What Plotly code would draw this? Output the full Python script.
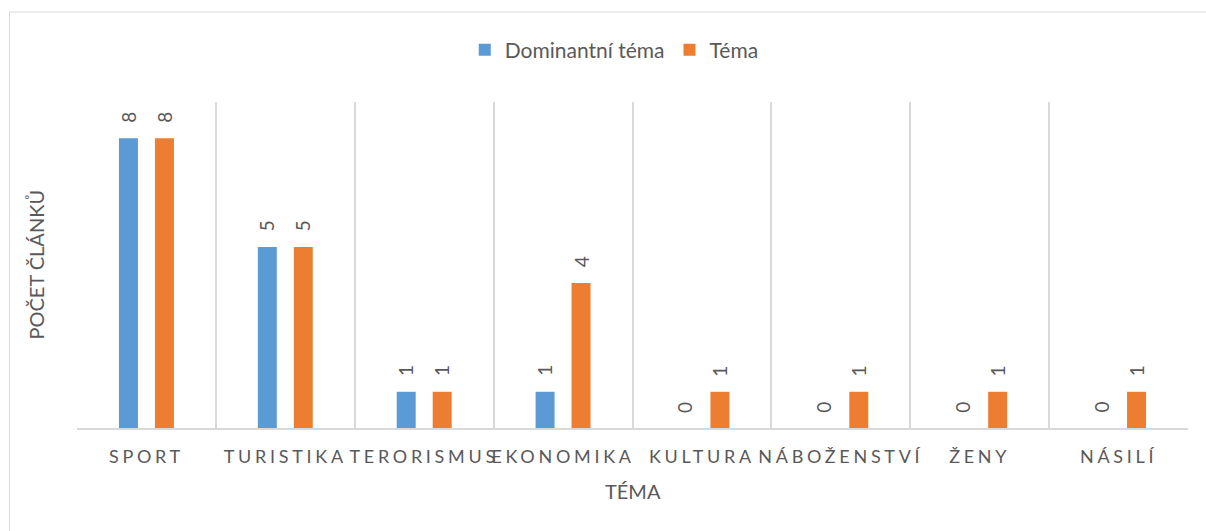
import plotly.graph_objects as go

categories = ["SPORT", "TURISTIKA", "TERORISMUS", "EKONOMIKA", "KULTURA",
              "NÁBOŽENSTVÍ", "ŽENY", "NÁSILÍ"]
dominant = [8, 5, 1, 1, 0, 0, 0, 0]
tema = [8, 5, 1, 4, 1, 1, 1, 1]
series_names = ["Dominantní téma", "Téma"]
colors = ["#5B9BD5", "#ED7D31"]
x_title = "TÉMA"
y_title = "POČET ČLÁNKŮ"

TEXT = "#595959"
GRID = "#D9D9D9"
FONT = "Lato"

W, H = 1206, 531
L, R, T, B = 76.5, 18, 102, 103
pw = W - L - R
ph = H - T - B


def px(x):
    return (x - L) / pw


def py(y):
    return (H - B - y) / ph


fig = go.Figure()
for name, vals, c in zip(series_names, [dominant, tema], colors):
    fig.add_bar(x=categories, y=vals, name=name, marker_color=c,
                marker_line_width=0)

annotations = []
for vals, shift in zip([dominant, tema], [-18, 18]):
    for cat, v in zip(categories, vals):
        annotations.append(dict(
            x=cat, y=v, xref="x", yref="y", text=str(v), showarrow=False,
            textangle=-90, xshift=shift, yshift=21, yanchor="middle",
            xanchor="center", font=dict(family=FONT, size=19, color=TEXT)))

annotations.append(dict(
    x=0.5, y=py(491), xref="paper", yref="paper", text=x_title,
    showarrow=False, xanchor="center", yanchor="middle",
    font=dict(family=FONT, size=20, color=TEXT)))
annotations.append(dict(
    x=px(35), y=0.5, xref="paper", yref="paper", text=y_title,
    showarrow=False, xanchor="center", yanchor="middle", textangle=-90,
    font=dict(family=FONT, size=20, color=TEXT)))

fig.update_layout(
    width=W, height=H,
    margin=dict(l=L, r=R, t=T, b=B, pad=0),
    paper_bgcolor="white", plot_bgcolor="white",
    font=dict(family=FONT, color=TEXT),
    barmode="group", bargap=0.482, bargroupgap=0.472,
    showlegend=True,
    legend=dict(orientation="h", x=px(614), xanchor="center",
                y=py(50), yanchor="middle", xref="paper", yref="paper",
                font=dict(family=FONT, size=21, color=TEXT),
                itemwidth=30, bgcolor="rgba(0,0,0,0)"),
    annotations=annotations,
    shapes=[dict(type="rect", xref="paper", yref="paper",
                 x0=px(9), y0=py(12), x1=px(1230), y1=py(560),
                 line=dict(color=GRID, width=1), fillcolor="rgba(0,0,0,0)",
                 layer="below")],
)
fig.update_xaxes(type="category", tickson="boundaries", showgrid=True,
                 gridcolor=GRID, gridwidth=1.5, showline=True,
                 linecolor=GRID, linewidth=1.5, ticks="",
                 ticklabelstandoff=12, zeroline=False,
                 tickfont=dict(family=FONT, size=18, color=TEXT))
fig.update_yaxes(range=[0, 9], showgrid=False, showticklabels=False,
                 zeroline=False, showline=False)

post = ("var s=document.createElement('style');"
        "s.textContent='html,body{margin:0;padding:0;overflow:hidden}"
        " .xtick text{letter-spacing:3.7px}';"
        "document.head.appendChild(s);")
fig.write_html("out.html", post_script=post,
               config={"displayModeBar": False})
